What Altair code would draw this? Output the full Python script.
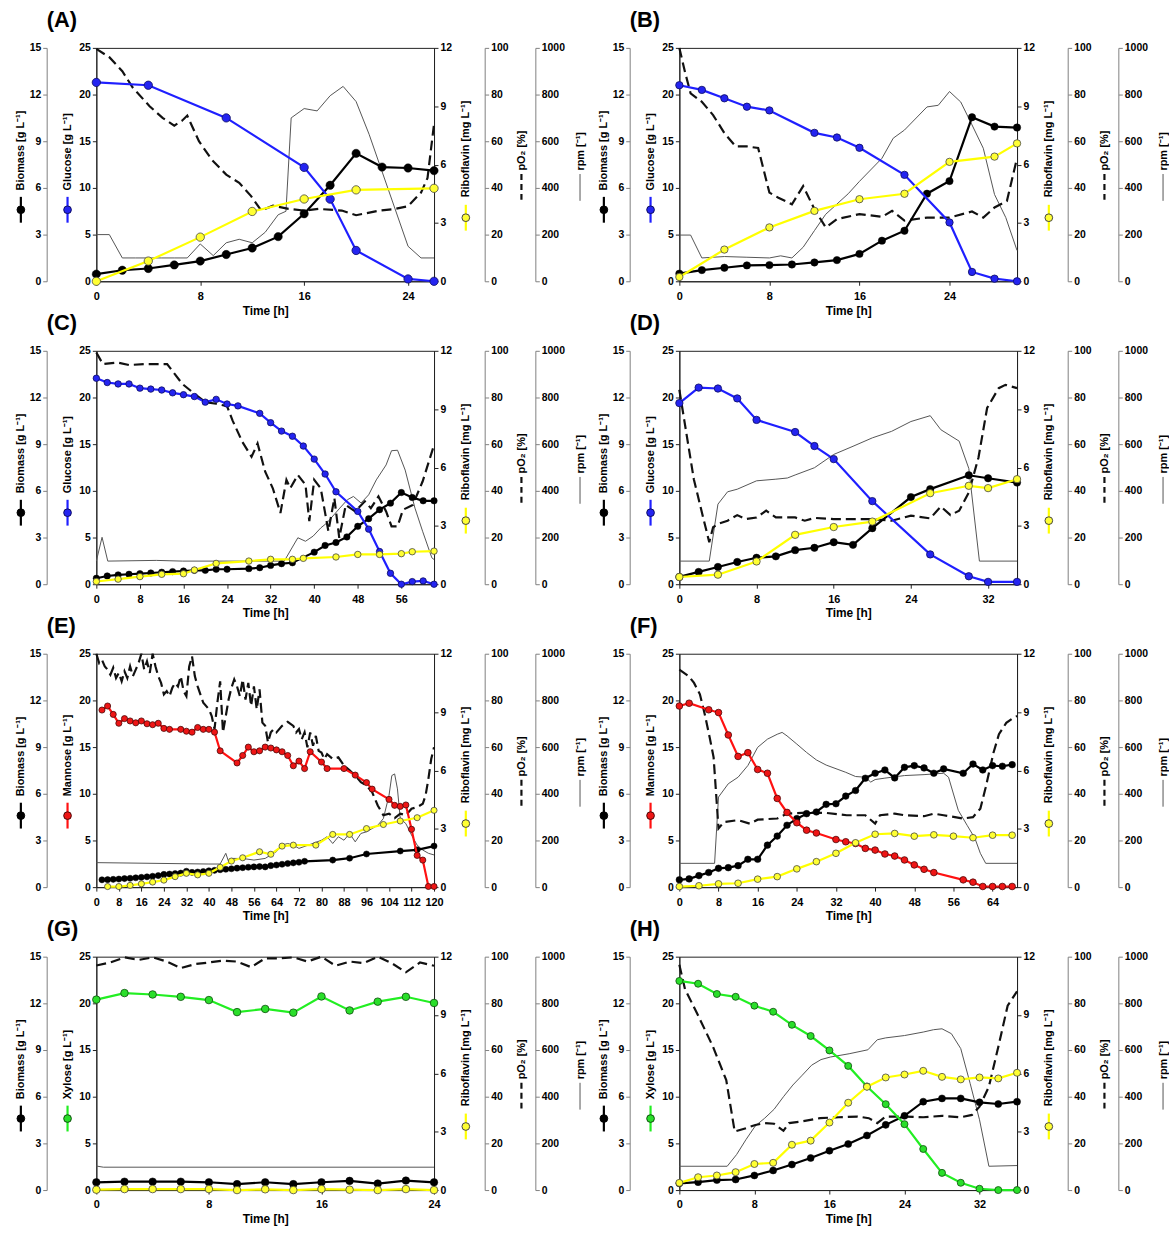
import altair as alt
import pandas as pd

FONT = "Liberation Sans"
W, H = 340, 235

# ---------------- Panel A (glucose) ----------------
A_bio_t = [0, 2, 4, 6, 8, 10, 12, 14, 16, 18, 20, 22, 24, 26]
A_bio = [0.46, 0.71, 0.82, 1.05, 1.30, 1.72, 2.14, 2.87, 4.34, 6.17, 8.22, 7.34, 7.28, 7.11]
A_sub_t = [0, 4, 10, 16, 18, 20, 24, 26]
A_sub = [21.3, 21.0, 17.5, 12.2, 8.8, 3.3, 0.25, 0.0]
A_rib_t = [0, 4, 8, 12, 16, 20, 26]
A_rib = [0.0, 1.04, 2.27, 3.59, 4.23, 4.70, 4.78]
A_po2_t = [0, 1, 2, 2.8, 4.1, 5.1, 6, 6.6, 7, 7.9, 8.9, 10, 11, 11.9, 12.7, 13.6, 14.8, 16, 17.1, 18.9, 20, 21.8, 23, 24, 25, 25.5, 26]
A_po2 = [99.6, 96, 90, 83, 75, 70, 66.7, 68.8, 71, 60, 52, 45.7, 42.2, 36.6, 30.3, 32.4, 31, 30.3, 31, 30.3, 28.3, 30.3, 31, 32.2, 38, 44.3, 67.4]
A_rpm_t = [0, 1, 2, 3, 4, 5, 6, 7, 8, 9, 10, 11, 12, 13, 14, 14.6, 15, 16, 17, 18, 19, 20, 21, 22, 23, 24, 25, 26]
A_rpm = [200, 200, 100, 100, 100, 100, 100, 100, 160, 110, 165, 180, 165, 210, 285, 300, 700, 740, 730, 795, 835, 770, 630, 470, 310, 150, 100, 100]

# ---------------- Panel B (glucose) ----------------
B_bio_t = [0, 2, 4, 6, 8, 10, 12, 14, 16, 18, 20, 22, 24, 26, 28, 30]
B_bio = [0.49, 0.72, 0.87, 1.02, 1.04, 1.08, 1.21, 1.36, 1.76, 2.61, 3.25, 5.63, 6.44, 10.54, 9.94, 9.88]
B_sub_t = [0, 2, 4, 6, 8, 12, 14, 16, 20, 24, 26, 28, 30]
B_sub = [21.0, 20.5, 19.6, 18.7, 18.3, 15.9, 15.4, 14.3, 11.4, 6.3, 1.0, 0.28, 0.0]
B_rib_t = [0, 4, 8, 12, 16, 20, 24, 28, 30]
B_rib = [0.22, 1.63, 2.77, 3.62, 4.22, 4.50, 6.14, 6.41, 7.09]
B_po2_t = [0, 0.5, 1, 2, 3, 4, 5, 6, 7, 8, 8.8, 10, 11, 12, 13, 14, 16, 18, 18.9, 20, 22, 24, 26, 27, 28, 29.1, 30]
B_po2 = [100, 89.7, 80.5, 76.9, 71.2, 63.5, 57.8, 57.8, 57.1, 38, 35.8, 33, 40.8, 30.9, 23.1, 26.6, 28.8, 27.6, 30.2, 26, 27.3, 27.3, 29.9, 27.3, 31.6, 34.4, 52.8]
B_rpm_t = [0, 1, 2, 4, 6, 8, 9, 10, 11, 12, 13, 15, 16, 18, 19, 20, 22, 23, 24, 25, 26, 27, 28, 29, 30]
B_rpm = [198, 198, 100, 106, 103, 100, 109, 100, 146, 217, 287, 375, 428, 527, 613, 648, 747, 754, 813, 768, 670, 570, 372, 273, 132]

# ---------------- Panel C (glucose) ----------------
C_bio_t = [0, 2, 4, 6, 8, 10, 12, 14, 16, 18, 20, 22, 24, 28, 30, 32, 34, 36, 40, 42, 44, 46, 48, 50, 52, 54, 56, 58, 60, 62]
C_bio = [0.38, 0.53, 0.60, 0.64, 0.68, 0.72, 0.77, 0.81, 0.85, 0.89, 0.89, 0.96, 0.96, 1.0, 1.06, 1.21, 1.32, 1.38, 2.06, 2.49, 2.68, 3.04, 3.72, 4.21, 4.79, 5.21, 5.89, 5.57, 5.36, 5.36]
C_sub_t = [0, 2, 4, 6, 8, 10, 12, 14, 16, 18, 20, 22, 24, 26, 30, 32, 34, 36, 38, 40, 42, 44, 48, 50, 52, 54, 56, 58, 60, 62]
C_sub = [22.06, 21.6, 21.45, 21.45, 21.0, 20.9, 20.8, 20.5, 20.3, 20.1, 19.5, 19.8, 19.3, 19.1, 18.3, 17.3, 16.4, 15.85, 14.8, 13.4, 11.8, 9.9, 7.8, 5.9, 3.5, 1.17, 0.0, 0.28, 0.35, 0.0]
C_rib_t = [0, 4, 8, 12, 16, 18, 22, 28, 32, 36, 38, 44, 48, 52, 56, 58, 62]
C_rib = [0.14, 0.26, 0.39, 0.51, 0.54, 0.73, 1.07, 1.19, 1.28, 1.28, 1.33, 1.40, 1.53, 1.53, 1.57, 1.67, 1.70]
C_po2_t = [0, 1.2, 3.9, 6, 9, 13, 15.8, 18, 20, 22, 24, 25, 26.8, 28.5, 29.6, 31, 32.4, 33.8, 34.9, 35.6, 37, 38.4, 39.1, 40, 41.2, 42.6, 43.7, 44.6, 45.8, 47.5, 49.3, 50.4, 51.8, 53.2, 54.2, 55.3, 56.3, 58.1, 59.9, 62]
C_po2 = [99.3, 94.3, 95, 93.9, 94.3, 94.3, 85.8, 81.6, 78, 77.3, 76.3, 70.2, 61, 54.6, 60.3, 48.2, 41.1, 30.5, 44.7, 41.1, 46.8, 42.6, 27, 44.7, 41.1, 22.7, 36.9, 19.9, 34, 31.2, 35.5, 32.6, 37.6, 31.2, 24.8, 24.8, 31.9, 34, 44, 59.6]
C_rpm_t = [0, 1.05, 2.1, 11, 15.8, 34.5, 37, 38.4, 39.8, 41.2, 42.3, 44.7, 46.1, 47.2, 48.6, 50, 51.4, 53.2, 54.2, 55.3, 56.7, 58.5, 59.9, 61.6, 62]
C_rpm = [99, 201, 99, 102, 99, 99, 199, 184, 206, 241, 262, 326, 362, 376, 348, 383, 447, 511, 572, 574, 489, 326, 227, 113, 106]

# ---------------- Panel D (glucose) ----------------
D_bio_t = [0, 2, 4, 6, 8, 10, 12, 14, 16, 18, 20, 24, 26, 30, 32, 35]
D_bio = [0.47, 0.79, 1.11, 1.43, 1.70, 1.79, 2.19, 2.34, 2.70, 2.53, 3.60, 5.60, 6.11, 7.0, 6.81, 6.53]
D_sub_t = [0, 2, 4, 6, 8, 12, 14, 16, 20, 26, 30, 32, 35]
D_sub = [19.4, 21.06, 20.96, 19.9, 17.6, 16.3, 14.8, 13.4, 8.9, 3.19, 0.85, 0.25, 0.25]
D_rib_t = [0, 4, 8, 12, 16, 20, 26, 30, 32, 35]
D_rib = [0.37, 0.49, 1.17, 2.54, 2.94, 3.22, 4.68, 5.06, 4.94, 5.40]
D_po2_t = [0, 0.5, 1.5, 2.5, 3.1, 3.5, 4, 5, 6, 6.9, 8, 9, 10, 12, 13, 14, 16, 20, 22, 24, 26, 27.1, 28.1, 29, 30, 31, 31.9, 33.1, 33.8, 35]
D_po2 = [83.3, 70.5, 45, 28, 18, 24.4, 25.8, 27.2, 29.6, 27.9, 28.6, 31.5, 28.6, 28.6, 27.2, 28.4, 27.9, 27.9, 27.2, 29.4, 28.2, 33.3, 29.6, 31.5, 39.3, 54.2, 75.5, 84, 85.4, 84]
D_rpm_t = [0, 3.1, 4, 5, 6, 8, 10, 11.2, 12, 14, 16, 18, 20, 22, 24, 26, 27.1, 29, 30, 31.1, 35]
D_rpm = [99, 99, 343, 396, 407, 443, 450, 455, 468, 499, 556, 591, 627, 655, 697, 722, 662, 613, 496, 99, 99]

# ---------------- Panel E (mannose) ----------------
E_bio_t = [2, 4, 6, 8, 10, 12, 14, 16, 18, 20, 22, 24, 26, 28, 30, 32, 34, 36, 38, 40, 42, 44, 46, 48, 50, 52, 54, 56, 58, 60, 62, 64, 66, 68, 70, 72, 74, 84, 90, 96, 108, 114, 120]
E_bio = [0.47, 0.48, 0.50, 0.52, 0.55, 0.57, 0.60, 0.63, 0.66, 0.70, 0.74, 0.82, 0.84, 0.87, 0.90, 1.02, 0.95, 0.97, 1.0, 1.05, 1.08, 1.12, 1.15, 1.18, 1.22, 1.25, 1.28, 1.30, 1.32, 1.30, 1.38, 1.42, 1.47, 1.52, 1.56, 1.60, 1.66, 1.74, 1.86, 2.13, 2.32, 2.40, 2.64]
E_sub_t = [2, 4, 6, 8, 10, 12, 14, 16, 18, 20, 22, 24, 26, 30, 32, 34, 36, 38, 40, 42, 44, 50, 52, 54, 56, 58, 60, 62, 64, 66, 68, 70, 72, 74, 76, 80, 82, 88, 92, 96, 98, 104, 106, 108, 110, 112, 114, 116, 118, 120]
E_sub = [18.97, 19.4, 18.5, 17.55, 18.05, 17.8, 17.6, 17.8, 17.5, 17.4, 17.55, 17.0, 16.9, 16.9, 16.7, 16.6, 17.1, 16.9, 16.9, 16.6, 14.6, 13.3, 14.1, 15.0, 14.5, 14.6, 15.0, 14.9, 14.7, 14.5, 14.1, 13.0, 13.5, 12.7, 14.5, 13.4, 12.7, 12.7, 12.0, 11.2, 10.5, 9.4, 8.76, 8.65, 8.8, 6.2, 3.4, 2.9, 0.07, 0.07]
E_rib_t = [4, 8, 12, 16, 20, 24, 28, 32, 36, 40, 44, 48, 52, 58, 62, 66, 70, 78, 84, 90, 96, 102, 108, 114, 120]
E_rib = [0.03, 0.03, 0.09, 0.17, 0.26, 0.36, 0.54, 0.71, 0.63, 0.71, 1.02, 1.34, 1.51, 1.82, 1.69, 2.11, 2.16, 2.16, 2.71, 2.71, 3.01, 3.22, 3.40, 3.57, 3.95]
E_po2_t = [0, 1, 2, 3, 4, 5, 6, 7, 8, 9, 10, 11, 12, 13, 14, 15, 16, 17, 18, 19, 20, 21, 22, 23, 24, 25, 26, 27, 28, 29, 30, 31, 32, 33, 34, 35, 36,
           38, 40, 41, 42, 43, 44, 45, 46, 47, 48, 49, 50, 51, 52, 53, 54, 55, 56, 57, 58, 59, 60, 61, 62, 63, 64,
           66, 68, 70, 71, 72, 73, 74, 75, 76, 77, 78, 79, 80, 81, 82,
           84, 86, 88, 90, 92, 94, 96, 98, 100, 102, 104, 106, 108, 110, 112, 114, 116, 117, 118, 119, 120]
E_po2 = [100, 96, 97.4, 94.6, 93.2, 91, 94, 89.6, 91.8, 88.2, 92.5, 89.6, 94.6, 90.4, 93.2, 96, 100, 93.2, 96.7, 91.8, 100, 94.6, 90.4, 87.5, 82.6, 84, 81.8, 85.4, 87.5, 86, 90.4, 84, 81.8, 94.6, 98.9, 90.4, 86,
         79, 76.2, 73.3, 67.7, 79, 88.2, 66.3, 73.3, 80.4, 85.4, 89, 86, 81.8, 89, 80.4, 87.5, 77.6, 86, 76.2, 84.7, 70.5, 69.1, 62, 66.3, 67.7, 66.3,
         69.1, 70.8, 69.1, 66.3, 67.7, 63.4, 66.3, 59.9, 66.3, 60.6, 64.8, 58.4, 57.7, 54.9, 57,
         54.9, 55.6, 52.1, 50, 47.8, 45, 43.5, 40.7, 35, 30.8, 31.5, 29.6, 31.5, 30.8, 33.6, 34.3, 35.7, 39.3, 46.4, 54.9, 59.9]
E_rpm_t = [0, 40, 44, 46, 47, 48, 52, 56, 60, 62, 64, 66, 68, 70, 72, 76, 80, 82, 84, 86, 88, 90, 92, 94, 96, 98, 100, 102, 104, 105, 106, 107, 108, 110, 112, 114, 116, 118, 120]
E_rpm = [105, 99, 99, 145, 109, 123, 123, 116, 123, 138, 152, 180, 187, 180, 166, 183, 201, 216, 187, 216, 201, 230, 194, 230, 237, 251, 265, 294, 393, 478, 485, 421, 294, 272, 223, 180, 159, 145, 138]

# ---------------- Panel F (mannose) ----------------
F_bio_t = [0, 2, 4, 6, 8, 10, 12, 14, 16, 18, 20, 22, 24, 26, 28, 30, 32, 34, 36, 38, 40, 42, 44, 46, 48, 50, 52, 54, 58, 60, 62, 64, 66, 68]
F_bio = [0.47, 0.53, 0.74, 0.94, 1.21, 1.25, 1.38, 1.79, 1.79, 2.70, 3.28, 3.98, 4.40, 4.72, 4.83, 5.32, 5.36, 5.85, 6.21, 7.0, 7.32, 7.53, 7.02, 7.70, 7.81, 7.66, 7.32, 7.60, 7.32, 7.91, 7.53, 7.81, 7.77, 7.87]
F_sub_t = [0, 2, 6, 8, 10, 12, 14, 16, 18, 20, 22, 24, 26, 28, 32, 34, 36, 38, 40, 42, 44, 46, 48, 50, 52, 58, 60, 62, 64, 66, 68]
F_sub = [19.4, 19.7, 19.0, 18.7, 16.3, 14.0, 14.4, 12.6, 12.2, 9.5, 8.0, 6.9, 6.1, 5.8, 5.1, 4.86, 4.68, 4.15, 3.97, 3.55, 3.33, 2.91, 2.38, 1.91, 1.56, 0.78, 0.53, 0.07, 0.07, 0.07, 0.07]
F_rib_t = [0, 4, 8, 12, 16, 20, 24, 28, 32, 36, 40, 44, 48, 52, 56, 60, 64, 68]
F_rib = [0.03, 0.07, 0.17, 0.20, 0.41, 0.54, 0.94, 1.31, 1.74, 2.28, 2.72, 2.76, 2.62, 2.69, 2.62, 2.54, 2.67, 2.67]
F_po2_t = [0, 1.9, 3, 4.2, 5.2, 6.2, 7, 7.7, 8, 9.1, 12, 14.4, 16, 20, 22, 26, 30, 34.2, 38, 40, 41, 44, 46, 50, 52, 54, 58, 60, 61.5, 62.6, 64.2, 65.3, 66.8, 68.3, 69]
F_po2 = [93.2, 90.4, 87.5, 82.6, 74, 64.1, 55.6, 34.3, 25.1, 27.9, 28.7, 27.2, 28.9, 29.4, 31.5, 31.9, 31.8, 30.8, 30.8, 27.2, 30.8, 31.5, 30.8, 30.4, 31.5, 30.8, 29.4, 30, 33.6, 42.8, 57.7, 65.5, 70.4, 72.6, 73.3]
F_rpm_t = [0, 7.2, 8, 10, 12, 14, 16, 18, 20, 21, 22, 24, 26, 28, 30, 34, 36, 38, 39.1, 40, 42, 46, 50, 52, 54, 55, 57, 58.8, 60.4, 61.5, 62.6, 69]
F_rpm = [102, 102, 386, 443, 471, 521, 599, 634, 655, 663, 648, 613, 577, 545, 523, 492, 474, 471, 450, 461, 467, 478, 482, 485, 488, 471, 329, 265, 209, 145, 102, 102]

# ---------------- Panel G (xylose) ----------------
G_bio_t = [0, 2, 4, 6, 8, 10, 12, 14, 16, 18, 20, 22, 24]
G_bio = [0.50, 0.54, 0.54, 0.54, 0.50, 0.38, 0.50, 0.38, 0.50, 0.59, 0.42, 0.61, 0.50]
G_sub_t = [0, 2, 4, 6, 8, 10, 12, 14, 16, 18, 20, 22, 24]
G_sub = [20.4, 21.1, 20.95, 20.7, 20.35, 19.06, 19.4, 19.0, 20.74, 19.24, 20.18, 20.7, 20.04]
G_rib_t = [0, 2, 4, 6, 8, 10, 12, 14, 16, 18, 20, 22, 24]
G_rib = [0.02, 0.05, 0.05, 0.05, 0.05, 0.0, 0.04, 0.0, 0.05, 0.02, 0.0, 0.05, 0.0]
G_po2_t = [0, 1, 2, 3, 4, 5, 6, 7, 8, 9, 10, 11, 12, 13, 14, 15, 16, 17, 18, 19, 20, 21, 22, 23, 24]
G_po2 = [96.2, 97.5, 99.7, 98.6, 99.7, 97.9, 95.1, 96.8, 97.5, 98.3, 97.9, 95.5, 99.3, 99.3, 99.7, 97.9, 100, 96.1, 97.9, 97.2, 100, 97.2, 93.3, 97.5, 96.1]
G_rpm_t = [0, 0.5, 24]
G_rpm = [103, 98, 98]

# ---------------- Panel H (xylose) ----------------
H_bio_t = [0, 2, 4, 6, 8, 10, 12, 14, 16, 18, 20, 22, 24, 26, 28, 30, 32, 34, 36]
H_bio = [0.43, 0.51, 0.64, 0.68, 0.94, 1.26, 1.64, 2.06, 2.53, 2.96, 3.51, 4.19, 4.77, 5.68, 5.89, 5.89, 5.64, 5.53, 5.68]
H_sub_t = [0, 2, 4, 6, 8, 10, 12, 14, 16, 18, 20, 22, 24, 26, 28, 30, 32, 34, 36]
H_sub = [22.4, 22.1, 21.0, 20.7, 19.75, 19.1, 17.7, 16.5, 14.96, 13.3, 11.1, 9.2, 7.06, 4.4, 1.84, 0.78, 0.14, 0.0, 0.0]
H_rib_t = [0, 2, 4, 6, 8, 10, 12, 14, 16, 18, 20, 22, 24, 26, 28, 30, 32, 34, 36]
H_rib = [0.37, 0.66, 0.75, 0.92, 1.34, 1.40, 2.33, 2.54, 3.47, 4.49, 5.31, 5.79, 5.94, 6.13, 5.82, 5.69, 5.79, 5.74, 6.03]
H_po2_t = [0, 0.6, 2, 3.6, 5, 5.9, 7.1, 8.1, 9.1, 10.1, 11.1, 11.7, 13, 15, 17, 19, 20.2, 21.1, 22, 24, 26, 28, 30, 31.2, 32, 33, 34, 35, 36]
H_po2 = [96.5, 86.1, 74.8, 61.3, 47.1, 25.1, 26.5, 27.9, 28.7, 28.4, 25.4, 28.7, 29.4, 30.8, 31.2, 31.5, 30.8, 28.7, 31.5, 31.5, 31.2, 31.8, 31.2, 32.2, 35.7, 44.3, 61.3, 79, 85.1]
H_rpm_t = [0, 5.1, 6.1, 7.1, 8.1, 9.1, 10.1, 11.1, 12.1, 13.1, 14.1, 15.1, 16.1, 18.1, 20.1, 21.1, 22, 24, 26, 27.1, 28, 29, 30, 31, 32, 33, 36]
H_rpm = [102, 102, 152, 216, 275, 308, 346, 400, 450, 492, 535, 559, 570, 584, 601, 644, 652, 662, 677, 687, 691, 670, 606, 457, 301, 102, 105]

# axis tick values
BIO_TICKS = [0, 3, 6, 9, 12, 15]
SUB_TICKS = [0, 5, 10, 15, 20, 25]
RIB_TICKS = [0, 3, 6, 9, 12]
PO2_TICKS = [0, 20, 40, 60, 80, 100]
RPM_TICKS = [0, 200, 400, 600, 800, 1000]

SUB_STYLE = {
    "Glucose": ("#1f1fff", "#2424f0", "#0c0c60"),
    "Mannose": ("#ff1111", "#ee1515", "#4a0808"),
    "Xylose": ("#22ee22", "#2ade2a", "#0d4d0d"),
}
YELLOW_LINE = "#ffff00"
YELLOW_FILL = "#ffff33"
GREY_AX = "#808080"
DARK_AX = "#222222"

# title / glyph geometry (pixels relative to plot area)
GX_BIO, GX_SUB = -76, -29
GX_RIB, GX_PO2, GX_RPM = W + 32, W + 88, W + 147


def df(t, v):
    return pd.DataFrame({"t": t, "v": v})


def yaxis(orient, offset, ticks, title, title_x, title_y, color):
    return alt.Axis(orient=orient, offset=offset, values=ticks, title=title, format="d",
                    titleX=title_x, titleY=title_y, titleAngle=270,
                    titleAlign="left", titleBaseline="middle",
                    domainColor=color, tickColor=color, labelOverlap=False,
                    grid=False)


def glyph(x, y1, y2, color, width, dash=None, point=None):
    base = alt.Chart(pd.DataFrame({"k": [0]}))
    kw = dict(color=color, strokeWidth=width)
    if dash:
        kw["strokeDash"] = dash
    out = [base.mark_rule(**kw).encode(x=alt.value(x), y=alt.value(y1), y2=alt.value(y2))]
    if point:
        fill, stroke, size = point
        out.append(base.mark_point(filled=True, fill=fill, stroke=stroke, strokeWidth=1,
                                   size=size, opacity=1)
                   .encode(x=alt.value(x), y=alt.value((y1 + y2) / 2)))
    return out


def panel(letter, sub_name, xdom, xticks, bio_t, bio, sub_t, sub, rib_t, rib,
          po2_t, po2, rpm_t, rpm, msize):
    line_c, fill_c, stroke_c = SUB_STYLE[sub_name]
    X = alt.X("t:Q", scale=alt.Scale(domain=xdom, nice=False, zero=False),
              axis=alt.Axis(values=xticks, title="Time [h]", labelFlush=False,
                            labelOverlap=False, grid=False, tickSize=4,
                            labelPadding=5, titlePadding=4, titleFontSize=12,
                            labelFontSize=11,
                            domainColor=DARK_AX, tickColor=DARK_AX))

    rpm_l = alt.Chart(df(rpm_t, rpm)).mark_line(color="#555555", strokeWidth=1).encode(
        x=X, y=alt.Y("v:Q", scale=alt.Scale(domain=[0, 1000], nice=False),
                     axis=yaxis("right", 102, RPM_TICKS, "rpm [⁻¹]", 45, 123, GREY_AX)))
    po2_l = alt.Chart(df(po2_t, po2)).mark_line(color="#111111", strokeWidth=2.2,
                                                 strokeDash=[10, 5]).encode(
        x=X, y=alt.Y("v:Q", scale=alt.Scale(domain=[0, 100], nice=False),
                     axis=yaxis("right", 51, PO2_TICKS, "pO₂ [%]", 37, 123, GREY_AX)))
    bio_l = alt.Chart(df(bio_t, bio)).mark_line(
        color="#000000", strokeWidth=2.2,
        point=alt.OverlayMarkDef(filled=True, fill="#000000", stroke="#000000",
                                 strokeWidth=0.5, size=msize, opacity=1)).encode(
        x=X, y=alt.Y("v:Q", scale=alt.Scale(domain=[0, 15], nice=False),
                     axis=yaxis("left", 50, BIO_TICKS, "Biomass [g L⁻¹]", -26, 143, GREY_AX)))
    sub_l = alt.Chart(df(sub_t, sub)).mark_line(
        color=line_c, strokeWidth=2.2,
        point=alt.OverlayMarkDef(filled=True, fill=fill_c, stroke=stroke_c,
                                 strokeWidth=0.8, size=msize, opacity=1)).encode(
        x=X, y=alt.Y("v:Q", scale=alt.Scale(domain=[0, 25], nice=False),
                     axis=yaxis("left", 0, SUB_TICKS, sub_name + " [g L⁻¹]", -29, 143, DARK_AX)))
    rib_l = alt.Chart(df(rib_t, rib)).mark_line(
        color=YELLOW_LINE, strokeWidth=2.2,
        point=alt.OverlayMarkDef(filled=True, fill=YELLOW_FILL, stroke="#444444",
                                 strokeWidth=0.8, size=msize, opacity=1)).encode(
        x=X, y=alt.Y("v:Q", scale=alt.Scale(domain=[0, 12], nice=False),
                     axis=yaxis("right", 0, RIB_TICKS, "Riboflavin [mg L⁻¹]", 32, 150, DARK_AX)))

    gl = []
    gl += glyph(GX_BIO, 150, 176, "#000000", 2.2, point=("#000000", "#000000", 60))
    gl += glyph(GX_SUB, 150, 176, line_c, 2.2, point=(fill_c, stroke_c, 60))
    gl += glyph(GX_RIB, 158, 184, YELLOW_LINE, 2.2, point=(YELLOW_FILL, "#444444", 60))
    gl += glyph(GX_PO2, 127, 156, "#111111", 2.2, dash=[6, 4])
    gl += glyph(GX_RPM, 127, 154, "#555555", 1)

    return alt.layer(rpm_l, po2_l, bio_l, sub_l, rib_l, *gl).resolve_scale(
        y="independent").properties(
        width=W, height=H,
        title=alt.TitleParams(text=letter, anchor="start", frame="group", dx=-50,
                              offset=11, fontSize=22, font=FONT, fontWeight="bold",
                              color="#000000"))


panels = [
    panel("(A)", "Glucose", [0, 26], [0, 8, 16, 24], A_bio_t, A_bio, A_sub_t, A_sub,
          A_rib_t, A_rib, A_po2_t, A_po2, A_rpm_t, A_rpm, 70),
    panel("(B)", "Glucose", [0, 30], [0, 8, 16, 24], B_bio_t, B_bio, B_sub_t, B_sub,
          B_rib_t, B_rib, B_po2_t, B_po2, B_rpm_t, B_rpm, 55),
    panel("(C)", "Glucose", [0, 62], [0, 8, 16, 24, 32, 40, 48, 56], C_bio_t, C_bio,
          C_sub_t, C_sub, C_rib_t, C_rib, C_po2_t, C_po2, C_rpm_t, C_rpm, 42),
    panel("(D)", "Glucose", [0, 35], [0, 8, 16, 24, 32], D_bio_t, D_bio, D_sub_t, D_sub,
          D_rib_t, D_rib, D_po2_t, D_po2, D_rpm_t, D_rpm, 55),
    panel("(E)", "Mannose", [0, 120], list(range(0, 121, 8)), E_bio_t, E_bio, E_sub_t,
          E_sub, E_rib_t, E_rib, E_po2_t, E_po2, E_rpm_t, E_rpm, 38),
    panel("(F)", "Mannose", [0, 69], [0, 8, 16, 24, 32, 40, 48, 56, 64], F_bio_t, F_bio,
          F_sub_t, F_sub, F_rib_t, F_rib, F_po2_t, F_po2, F_rpm_t, F_rpm, 45),
    panel("(G)", "Xylose", [0, 24], [0, 8, 16, 24], G_bio_t, G_bio, G_sub_t, G_sub,
          G_rib_t, G_rib, G_po2_t, G_po2, G_rpm_t, G_rpm, 58),
    panel("(H)", "Xylose", [0, 36], [0, 8, 16, 24, 32], H_bio_t, H_bio, H_sub_t, H_sub,
          H_rib_t, H_rib, H_po2_t, H_po2, H_rpm_t, H_rpm, 50),
]

chart = alt.ConcatChart(concat=panels, columns=2,
                        spacing={"row": 70, "column": 247}, bounds="flush")
chart = chart.properties(
    padding={"left": 14, "top": 4, "right": 0, "bottom": 0},
    background="white",
).configure_view(stroke=DARK_AX, strokeWidth=1).configure_axis(
    labelFont=FONT, titleFont=FONT, labelFontWeight="bold", titleFontWeight="bold",
    labelFontSize=10.5, titleFontSize=11, labelColor="#000000", titleColor="#000000",
    tickSize=4, labelPadding=2, grid=False,
).configure_title(font=FONT)

chart.save("out.html", embed_options={"renderer": "svg", "actions": False})
